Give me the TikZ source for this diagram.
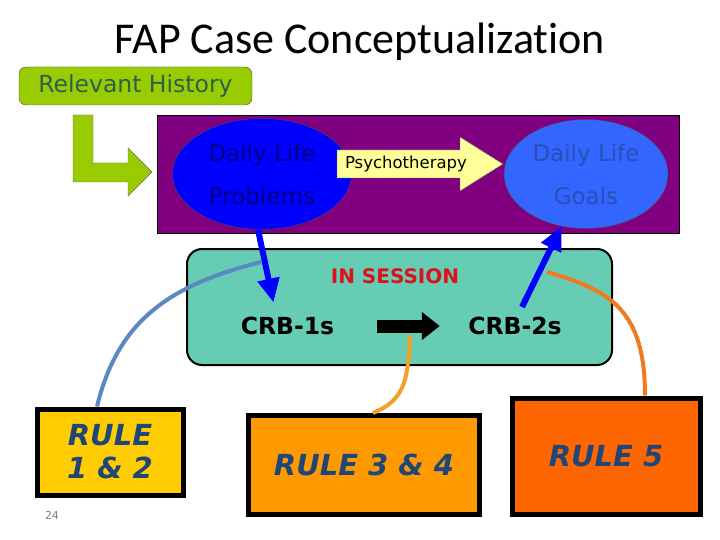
\documentclass[tikz,border=0pt]{standalone}
\usepackage{fontspec}
\setmainfont{DejaVu Sans}[ItalicFont={DejaVu Sans Oblique},BoldFont={DejaVu Sans Bold},BoldItalicFont={DejaVu Sans Bold Oblique}]
\newfontfamily\titlefont{Carlito}[Ligatures=NoCommon]
\usetikzlibrary{arrows.meta,shapes.geometric}

\definecolor{histgreen}{HTML}{99CC00}
\definecolor{histtext}{HTML}{2E5E4E}
\definecolor{plum}{HTML}{800080}
\definecolor{navytext}{HTML}{000080}
\definecolor{goalblue}{HTML}{3366FF}
\definecolor{goaltext}{HTML}{2B4FB5}
\definecolor{psyyellow}{HTML}{FFFF99}
\definecolor{sessteal}{HTML}{66CCB3}
\definecolor{sessred}{HTML}{E0101A}
\definecolor{steel}{HTML}{5A88C2}
\definecolor{sessorange}{HTML}{F27A1E}
\definecolor{amber}{HTML}{F2A02A}
\definecolor{rulegold}{HTML}{FFCC00}
\definecolor{ruleamber}{HTML}{FF9900}
\definecolor{rulered}{HTML}{FF6600}
\definecolor{rulenavy}{HTML}{1F4579}

\tikzset{
  rulebox/.style={draw=black, line width=5pt, inner sep=0pt, text=rulenavy, align=center,
    font=\fontsize{29}{33}\selectfont\bfseries\itshape},
  blob/.style={ellipse, draw=black!70, thin, inner sep=0pt, align=center,
    font=\fontsize{23}{43}\selectfont},
  crb/.style={font=\fontsize{23.5}{28}\selectfont\bfseries},
  link/.style={line width=4pt},
  push/.style={line width=6pt, blue, -{Triangle[length=24pt,width=21pt]}}
}

\begin{document}
\begin{tikzpicture}[x=1pt,y=-1pt]

\useasboundingbox (0,0) rectangle (720,540);

\node[anchor=base, font=\titlefont\fontsize{44}{50}\selectfont] (title) at (360,54) {FAP Case Conceptualization};

% history
\node[draw=black!70, fill=histgreen, rounded corners=7pt, minimum width=233pt, minimum height=38pt,
  inner sep=0pt, text=histtext, font=\fontsize{23.5}{27}\selectfont] (hist) at (135.5,86) {Relevant History};
\draw [fill=histgreen, draw=black!60] (73,115) -- (93,115) -- (93,163) -- (128,163) -- (128,148)
  -- (152,172) -- (128,196) -- (128,182) -- (73,182) -- cycle;

% daily life
\node[draw=black, fill=plum, minimum width=522pt, minimum height=118pt, inner sep=0pt] (daily) at (418,174) {};
\node[blob, fill=blue, text=navytext, minimum width=179pt, minimum height=111pt] (probs) at (262,174) {Daily Life\\Problems};
\node[blob, fill=goalblue, text=goaltext, minimum width=164pt, minimum height=109pt] (goals) at (586,174) {Daily Life\\Goals};

\draw [fill=psyyellow, draw=black!60] (337,150) -- (460,150) -- (460,137) -- (503,164) -- (460,191)
  -- (460,178) -- (337,178) -- cycle;
\node[font=\fontsize{16.5}{20}\selectfont] (psy) at (406,164) {Psychotherapy};

% session
\node[draw=black, line width=2pt, fill=sessteal, rounded corners=15pt, minimum width=425pt,
  minimum height=116pt, inner sep=0pt] (session) at (399.5,307) {};
\node[text=sessred, font=\fontsize{20}{24}\selectfont\bfseries] (insess) at (395,276) {IN SESSION};
\node[crb] (crb1) at (287.5,326) {CRB-1s};
\node[crb] (crb2) at (515,326) {CRB-2s};
\draw [line width=13pt, -{Triangle[length=18pt,width=27pt]}, shorten <=39pt, shorten >=25pt] (crb1.east) -- (crb2.west);

% rules
\node[rulebox, fill=rulegold, minimum width=146pt, minimum height=86pt] (rule12) at (110,452) {RULE\\1 \& 2};
\node[rulebox, fill=ruleamber, minimum width=231pt, minimum height=99pt] (rule34) at (364,465) {RULE 3 \& 4};
\node[rulebox, fill=rulered, minimum width=188pt, minimum height=116pt] (rule5) at (606,456) {RULE 5};

\coordinate (s1) at (261,262);
\coordinate (s2) at (547,272);
\coordinate (s3) at (410,335);
\draw [link, steel] ([xshift=-13pt]rule12.north) .. controls (118,320) and (170,285) .. (s1);
\draw [link, sessorange] (s2) .. controls (610,290) and (645,310) .. ([xshift=39pt]rule5.north);
\draw [link, amber] (s3) .. controls (408,380) and (405,400) .. ([xshift=9pt]rule34.north);

\coordinate (b2) at (522,307);
\draw [push] ([xshift=-4pt]probs.south) -- ([xshift=-14pt,yshift=11pt]crb1.north);
\draw [push] (b2) -- (goals.245);

\node[text=gray, font=\fontsize{11}{13}\selectfont] (pagenum) at (52,515) {24};

\end{tikzpicture}
\end{document}
